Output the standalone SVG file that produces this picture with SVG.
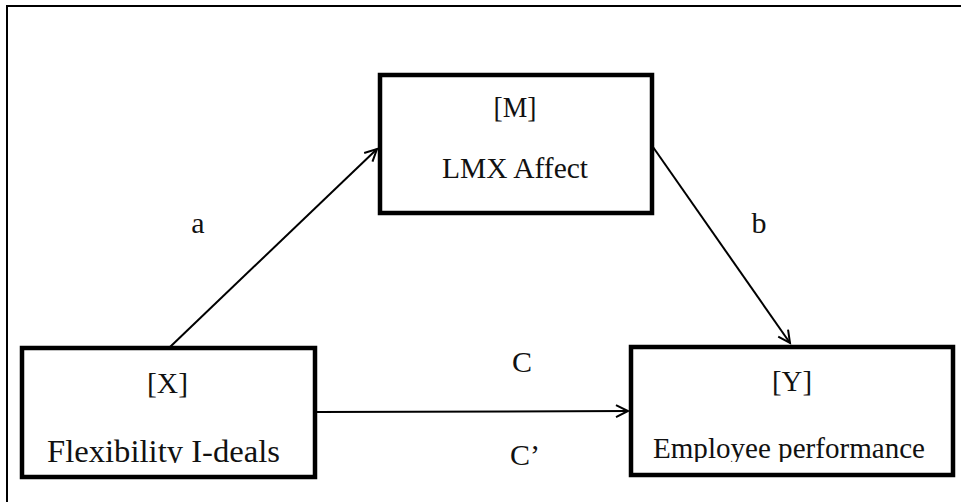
<svg xmlns="http://www.w3.org/2000/svg" width="961" height="502" viewBox="0 0 961 502">
<style>
.box{fill:#fff;stroke:#000;stroke-width:4.5}
.t{font-family:"Liberation Serif","Times New Roman",serif;fill:#111;text-anchor:middle}
.conn{stroke:#000;stroke-width:2;fill:none;marker-end:url(#arr)}
</style>
<defs>
<marker id="arr" markerUnits="userSpaceOnUse" markerWidth="16" markerHeight="16" refX="13" refY="7" orient="auto">
<path d="M1,1 L13,7 L1,13" fill="none" stroke="#000" stroke-width="2"/>
</marker>
<clipPath id="clipX"><rect x="0" y="0" width="961" height="463"/></clipPath>
<clipPath id="clipY"><rect x="0" y="0" width="961" height="462"/></clipPath>
</defs>
<rect width="961" height="502" fill="#fff"/>
<path d="M7,502 L7,6 L961,6" fill="none" stroke="#000" stroke-width="2"/>
<g id="connectors">
<line class="conn" x1="170" y1="347" x2="377" y2="149"/>
<line class="conn" x1="653" y1="147" x2="790" y2="343"/>
<line class="conn" x1="317" y1="412" x2="628" y2="411"/>
<text class="t" x="198" y="233" font-size="30">a</text>
<text class="t" x="759" y="233" font-size="30">b</text>
<text class="t" x="522" y="372" font-size="30">C</text>
<text class="t" x="525" y="465" font-size="30">C’</text>
</g>
<g id="nodeM">
<rect class="box" x="380" y="75" width="272" height="138"/>
<text class="t" x="515" y="117" font-size="30" textLength="43" lengthAdjust="spacingAndGlyphs">[M]</text>
<text class="t" x="515" y="178" font-size="30" textLength="146" lengthAdjust="spacingAndGlyphs">LMX Affect</text>
</g>
<g id="nodeX">
<rect class="box" x="22" y="348" width="293" height="129"/>
<text class="t" x="167.5" y="393" font-size="30" textLength="41" lengthAdjust="spacingAndGlyphs">[X]</text>
<text class="t" x="163.5" y="462" font-size="31" textLength="233" lengthAdjust="spacingAndGlyphs" clip-path="url(#clipX)">Flexibility I-deals</text>
</g>
<g id="nodeY">
<rect class="box" x="631" y="347" width="322" height="128"/>
<text class="t" x="792" y="391" font-size="30" textLength="40" lengthAdjust="spacingAndGlyphs">[Y]</text>
<text class="t" x="789" y="458" font-size="30" textLength="272" lengthAdjust="spacingAndGlyphs" clip-path="url(#clipY)">Employee performance</text>
</g>
</svg>
